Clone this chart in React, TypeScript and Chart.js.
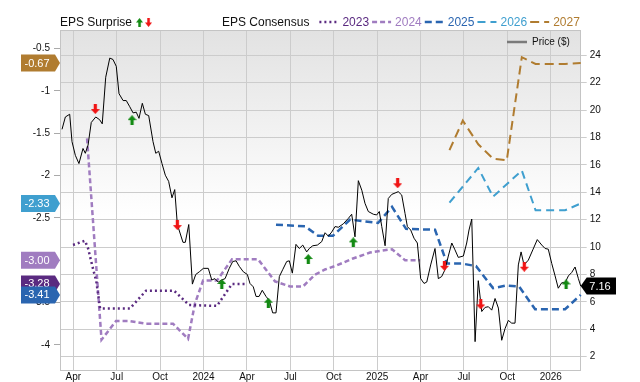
import React, { useEffect, useRef } from "react";
import { Chart, registerables } from "chart.js";
Chart.register(...registerables);

// x unit: months since 1 April 2023
const xTickPos = [0, 3, 6, 9, 12, 15, 18, 21, 24, 27, 30, 33];
const xTickLabels = ["Apr", "Jul", "Oct", "2024", "Apr", "Jul", "Oct", "2025", "Apr", "Jul", "Oct", "2026"];
const leftTicks = [-4, -3.5, -3, -2.5, -2, -1.5, -1, -0.5];
const rightTicks = [2, 4, 6, 8, 10, 12, 14, 16, 18, 20, 22, 24];

const priceX = [-0.78,-0.55,-0.25,-0.09,0.14,0.39,0.67,0.83,1.02,1.24,
  1.55,1.82,2.00,2.24,2.52,2.74,2.97,3.16,3.44,3.66,
  3.90,4.13,4.35,4.54,4.77,4.98,5.21,5.51,5.70,5.90,
  6.13,6.36,6.59,6.82,7.01,7.19,7.58,7.74,7.98,8.23,
  8.46,8.71,8.99,9.33,9.57,9.79,10.02,10.26,10.49,10.78,
  11.02,11.25,11.47,11.75,12.03,12.21,12.44,12.63,12.84,13.06,
  13.32,13.55,13.78,14.01,14.24,14.47,14.75,14.93,15.14,15.39,
  15.62,15.86,16.13,16.31,16.55,16.87,17.17,17.40,17.63,17.86,
  18.09,18.32,18.66,19.01,19.24,19.47,19.70,19.94,20.16,20.39,
  20.74,20.97,21.15,21.32,21.55,21.77,22.01,22.24,22.46,22.70,
  22.93,23.09,23.32,23.55,23.78,24.01,24.24,24.43,24.70,25.00,
  25.23,25.46,25.69,25.92,26.16,26.38,26.61,26.96,27.19,27.35,
  27.54,27.77,27.99,28.23,28.46,28.69,28.92,29.15,29.38,29.61,
  29.84,30.07,30.30,30.53,30.76,30.95,31.15,31.45,31.76,32.07,
  32.38,32.61,32.83,33.07,33.30,33.52,33.76,33.99,34.22,34.45,
  34.68,34.91,35.07];
const priceY = [18.6,19.5,19.7,17.7,16.7,16.1,17.2,16.85,17.45,19.1,
  19.5,19.3,19.0,22.4,23.8,23.7,23.2,21.2,20.7,20.7,
  20.25,19.8,19.85,19.4,20.5,19.7,19.6,17.7,16.85,17.0,
  16.1,15.25,14.8,13.6,14.2,11.65,10.35,10.35,11.65,7.3,
  8.0,8.2,8.45,8.45,7.6,7.7,7.45,7.6,7.7,8.45,
  8.95,9.0,8.6,8.2,8.0,7.35,7.1,6.4,6.4,6.85,
  6.4,6.1,5.2,5.2,7.85,8.35,8.95,9.0,8.1,10.2,
  9.9,10.15,9.65,9.9,10.1,10.15,10.4,11.05,10.8,11.1,
  11.5,11.45,11.7,12.1,12.4,10.75,14.85,14.15,13.2,12.6,
  12.4,12.35,12.6,11.5,10.1,13.55,13.85,13.95,14.05,13.8,
  12.45,11.5,11.25,10.65,10.3,7.7,7.35,7.45,8.7,9.9,
  7.7,7.85,8.35,9.35,10.3,9.8,9.25,9.35,10.3,11.25,
  12.05,3.1,7.55,5.3,5.6,5.65,5.4,6.25,5.55,3.2,
  4.05,4.65,4.45,4.45,8.7,9.65,8.7,9.05,9.8,10.55,
  10.15,9.9,9.85,8.8,7.9,7.0,7.4,7.4,7.9,8.15,
  8.55,7.7,7.16];

const eps2023X = [-0.02, 0.81, 1.02, 1.36, 1.59, 1.85, 3.92, 5.03, 6.96, 8.00, 9.93, 10.97, 11.87];
const eps2023Y = [-2.82, -2.77, -2.86, -3.10, -3.25, -3.57, -3.57, -3.36, -3.36, -3.53, -3.54, -3.28, -3.28];

const eps2024X = [0.95, 1.95, 2.95, 3.92, 5.03, 6.89, 7.93, 8.41, 8.97, 9.93, 10.97, 12.77, 13.94, 14.98, 15.88, 16.71, 17.40, 18.23, 19.33, 20.51, 21.20, 22.03, 22.93, 23.97];
const eps2024Y = [-1.56, -3.94, -3.72, -3.72, -3.75, -3.75, -3.93, -3.51, -3.24, -3.24, -2.99, -2.99, -3.25, -3.31, -3.31, -3.17, -3.11, -3.06, -2.98, -2.91, -2.89, -2.87, -3.00, -3.00];

const eps2025X = [14.01, 16.02, 16.91, 17.95, 19.13, 21.06, 22.03, 23.00, 25.00, 25.83, 26.87, 27.84, 29.01, 29.91, 30.81, 31.92, 33.99, 35.07];
const eps2025Y = [-2.58, -2.60, -2.71, -2.71, -2.52, -2.56, -2.37, -2.63, -2.64, -3.04, -3.04, -3.07, -3.33, -3.30, -3.31, -3.58, -3.58, -3.41];

const eps2026X = [26.00, 27.99, 29.01, 31.00, 31.95, 33.99, 35.07];
const eps2026Y = [-2.32, -1.91, -2.25, -1.94, -2.41, -2.41, -2.33];

const eps2027X = [26.00, 26.92, 27.99, 29.01, 29.96, 31.00, 31.95, 33.99, 35.07];
const eps2027Y = [-1.70, -1.35, -1.63, -1.80, -1.82, -0.60, -0.68, -0.68, -0.67];

const beatX = [4.06, 10.26, 13.48, 16.24, 19.35, 34.06];
const beatY = [19.27, 7.31, 5.94, 9.13, 10.35, 7.28];
const missX = [1.52, 7.19, 22.42, 25.65, 28.16, 31.17];
const missY = [20.08, 11.61, 14.66, 8.64, 5.82, 8.57];

const FONT = 'Arial, "Liberation Sans", Helvetica, sans-serif';
const GREEN = "#138a13";
const RED = "#f01414";

const pts = (xs: number[], ys: number[]) => xs.map((x, i) => ({ x, y: ys[i] }));

const SERIES = [
  { label: "2023", color: "#5a2a80", dash: [2, 3], width: 2.5, xs: eps2023X, ys: eps2023Y },
  { label: "2024", color: "#a07cc0", dash: [5, 3], width: 2.5, xs: eps2024X, ys: eps2024Y },
  { label: "2025", color: "#2a65b0", dash: [7, 4], width: 2.5, xs: eps2025X, ys: eps2025Y },
  { label: "2026", color: "#3f9fcf", dash: [8, 5], width: 2, xs: eps2026X, ys: eps2026Y },
  { label: "2027", color: "#b07c30", dash: [9, 5], width: 2, xs: eps2027X, ys: eps2027Y },
];

function makeArrow(color: string, up: boolean, w = 9, h = 10) {
  const c = document.createElement("canvas");
  c.width = w;
  c.height = h;
  const g = c.getContext("2d")!;
  g.fillStyle = color;
  const hw = w / 2, sh = w * 0.18, mid = h * 0.5;
  g.beginPath();
  if (up) {
    g.moveTo(hw, 0); g.lineTo(w, mid); g.lineTo(hw + sh, mid); g.lineTo(hw + sh, h);
    g.lineTo(hw - sh, h); g.lineTo(hw - sh, mid); g.lineTo(0, mid);
  } else {
    g.moveTo(hw, h); g.lineTo(w, mid); g.lineTo(hw + sh, mid); g.lineTo(hw + sh, 0);
    g.lineTo(hw - sh, 0); g.lineTo(hw - sh, mid); g.lineTo(0, mid);
  }
  g.closePath();
  g.fill();
  return c;
}

function tagLeft(ctx: CanvasRenderingContext2D, yc: number, color: string, text: string) {
  const h = 17, x0 = 21, x1 = 55, xp = 60;
  ctx.fillStyle = color;
  ctx.beginPath();
  ctx.moveTo(x0, yc - h / 2);
  ctx.lineTo(x1, yc - h / 2);
  ctx.lineTo(xp, yc);
  ctx.lineTo(x1, yc + h / 2);
  ctx.lineTo(x0, yc + h / 2);
  ctx.closePath();
  ctx.fill();
  ctx.fillStyle = "#ffffff";
  ctx.font = "11px " + FONT;
  ctx.textAlign = "center";
  ctx.textBaseline = "middle";
  ctx.fillText(text, 37, yc + 0.5);
}

function tagRight(ctx: CanvasRenderingContext2D, xp: number, yc: number, text: string) {
  const h = 17, x0 = xp + 6, x1 = 616;
  ctx.fillStyle = "#000000";
  ctx.beginPath();
  ctx.moveTo(xp, yc);
  ctx.lineTo(x0, yc - h / 2);
  ctx.lineTo(x1, yc - h / 2);
  ctx.lineTo(x1, yc + h / 2);
  ctx.lineTo(x0, yc + h / 2);
  ctx.closePath();
  ctx.fill();
  ctx.fillStyle = "#ffffff";
  ctx.font = "11px " + FONT;
  ctx.textAlign = "center";
  ctx.textBaseline = "middle";
  ctx.fillText(text, 600, yc + 0.5);
}

export default function App() {
  const ref = useRef<HTMLCanvasElement | null>(null);

  useEffect(() => {
    if (!ref.current) return;
    Chart.defaults.font.family = FONT;
    const upImg = makeArrow(GREEN, true);
    const downImg = makeArrow(RED, false);
    const upLeg = makeArrow(GREEN, true, 7, 9);
    const downLeg = makeArrow(RED, false, 7, 9);

    const decor = {
      id: "decor",
      beforeDraw(chart: any) {
        const { ctx, chartArea: a } = chart;
        const g = ctx.createLinearGradient(0, a.top, 0, a.top + (a.bottom - a.top) * 0.55);
        g.addColorStop(0, "#e2e2e2");
        g.addColorStop(1, "#ffffff");
        ctx.save();
        ctx.fillStyle = g;
        ctx.fillRect(a.left, a.top, a.right - a.left, a.bottom - a.top);
        ctx.restore();
      },
      afterDraw(chart: any) {
        const { ctx, chartArea: a } = chart;
        const yL = chart.scales.yL;
        const yR = chart.scales.yR;
        ctx.save();
        // top border
        ctx.strokeStyle = "#c4c4c4";
        ctx.lineWidth = 1;
        ctx.beginPath();
        ctx.moveTo(a.left, a.top + 0.5);
        ctx.lineTo(a.right, a.top + 0.5);
        ctx.stroke();

        // legend
        ctx.font = "12px " + FONT;
        ctx.textBaseline = "middle";
        ctx.textAlign = "left";
        ctx.fillStyle = "#111111";
        ctx.fillText("EPS Surprise", 60, 23);
        let x = 60 + ctx.measureText("EPS Surprise").width + 4;
        ctx.drawImage(upLeg, x, 18, 7, 9);
        ctx.drawImage(downLeg, x + 9, 18, 7, 9);
        ctx.fillStyle = "#111111";
        ctx.fillText("EPS Consensus", 222, 23);
        x = 222 + ctx.measureText("EPS Consensus").width + 10;
        for (const s of SERIES) {
          ctx.strokeStyle = s.color;
          ctx.lineWidth = s.width;
          ctx.setLineDash(s.dash);
          ctx.beginPath();
          ctx.moveTo(x, 22);
          ctx.lineTo(x + 19, 22);
          ctx.stroke();
          ctx.setLineDash([]);
          x += 23;
          ctx.fillStyle = s.color;
          ctx.fillText(s.label, x, 23);
          x += ctx.measureText(s.label).width + 3;
        }

        // price legend
        ctx.strokeStyle = "#7a7a7a";
        ctx.lineWidth = 2.5;
        ctx.beginPath();
        ctx.moveTo(507, 42);
        ctx.lineTo(527, 42);
        ctx.stroke();
        ctx.font = "10px " + FONT;
        ctx.fillStyle = "#111111";
        ctx.fillText("Price ($)", 532, 42.5);

        // left tags (2025 on top)
        const order = [4, 3, 1, 0, 2];
        for (const i of order) {
          const s = SERIES[i];
          const v = s.ys[s.ys.length - 1];
          tagLeft(ctx, yL.getPixelForValue(v), s.color, v.toFixed(2));
        }
        // right price tag
        const pv = priceY[priceY.length - 1];
        tagRight(ctx, a.right, yR.getPixelForValue(pv), pv.toFixed(2));
        ctx.restore();
      },
    };

    const epsSets = SERIES.map((s) => ({
      label: s.label,
      data: pts(s.xs, s.ys),
      yAxisID: "yL",
      borderColor: s.color,
      borderWidth: s.width,
      borderDash: s.dash,
      pointRadius: 0,
      fill: false,
      tension: 0,
      clip: 4,
    }));

    const chart = new Chart(ref.current, {
      type: "line",
      data: {
        datasets: [
          {
            label: "beat",
            data: pts(beatX, beatY),
            yAxisID: "yR",
            showLine: false,
            pointStyle: upImg as any,
            pointRadius: 5,
          },
          {
            label: "miss",
            data: pts(missX, missY),
            yAxisID: "yR",
            showLine: false,
            pointStyle: downImg as any,
            pointRadius: 5,
          },
          {
            label: "Price ($)",
            data: pts(priceX, priceY),
            yAxisID: "yR",
            borderColor: "#000000",
            borderWidth: 1,
            pointRadius: 0,
            tension: 0,
            clip: 2,
          },
          ...epsSets,
        ] as any,
      },
      options: {
        animation: false,
        responsive: false,
        devicePixelRatio: 1,
        layout: { padding: { top: 30, left: 0, right: 0, bottom: 0 } },
        plugins: { legend: { display: false }, tooltip: { enabled: false } },
        scales: {
          x: {
            type: "linear",
            min: -0.92,
            max: 35.07,
            afterBuildTicks: (axis: any) => {
              axis.ticks = xTickPos.map((v) => ({ value: v }));
            },
            afterFit: (axis: any) => {
              axis.height = 12;
            },
            ticks: {
              autoSkip: false,
              maxRotation: 0,
              padding: 1,
              color: "#111111",
              font: { size: 10 },
              callback: (v: any) => {
                const i = xTickPos.indexOf(Number(v));
                return i >= 0 ? xTickLabels[i] : "";
              },
            },
            grid: { color: "#cccccc", drawTicks: false },
            border: { color: "#c4c4c4" },
          },
          yL: {
            type: "linear",
            position: "left",
            min: -4.298,
            max: -0.279,
            afterBuildTicks: (axis: any) => {
              axis.ticks = leftTicks.map((v) => ({ value: v }));
            },
            afterFit: (axis: any) => {
              axis.width = 60;
            },
            ticks: {
              padding: 4,
              color: "#111111",
              font: { size: 10 },
              callback: (v: any) => String(v),
            },
            grid: { drawOnChartArea: false, drawTicks: true, tickLength: 6, color: "#aaaaaa" },
            border: { color: "#c4c4c4" },
          },
          yR: {
            type: "linear",
            position: "right",
            min: 1.03,
            max: 25.85,
            afterBuildTicks: (axis: any) => {
              axis.ticks = rightTicks.map((v) => ({ value: v }));
            },
            afterFit: (axis: any) => {
              axis.width = 59.3;
            },
            ticks: {
              padding: 3,
              color: "#111111",
              font: { size: 10 },
              callback: (v: any) => String(v),
            },
            grid: { drawOnChartArea: true, drawTicks: true, tickLength: 6, color: "#cccccc" },
            border: { color: "#c4c4c4" },
          },
        },
      } as any,
      plugins: [decor],
    });
    return () => chart.destroy();
  }, []);

  return (
    <div style={{ position: "absolute", left: 0, top: 0, width: 640, height: 382, background: "#ffffff" }}>
      <canvas ref={ref} width={640} height={382} style={{ display: "block", width: 640, height: 382 }} />
    </div>
  );
}
